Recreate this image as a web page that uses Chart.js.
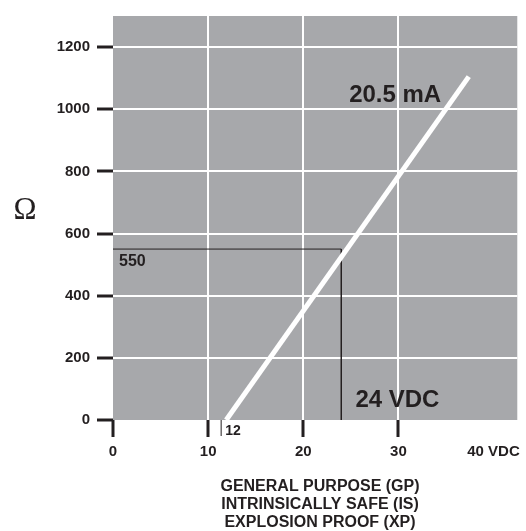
<!DOCTYPE html>
<html>
<head>
<meta charset="utf-8">
<script src="https://cdn.jsdelivr.net/npm/chart.js@4/dist/chart.umd.min.js"></script>
<style>
  html, body { margin: 0; padding: 0; background: #fff; }
  #wrap { width: 526px; height: 531px; position: relative; }
</style>
</head>
<body>
<div id="wrap"><canvas id="myChart"></canvas></div>
<script>
// values
const loadLineX = [11.9, 37.4]; // volts
const loadLineY = [0, 1105]; // ohms
const refX = [0, 24, 24];
const refY = [550, 550, 0];
const xTicks = [0, 10, 20, 30, 40];
const yTicks = [0, 200, 400, 600, 800, 1000, 1200];
const bottomLines = ['GENERAL PURPOSE (GP)', 'INTRINSICALLY SAFE (IS)', 'EXPLOSION PROOF (XP)'];

const ink = '#231f20';
const fontFam = '"Liberation Sans", Arial, Helvetica, sans-serif';

function toPoints(xs, ys) {
  return xs.map((x, i) => ({ x: x, y: ys[i] }));
}

const extras = {
  id: 'extras',
  beforeDraw(chart) {
    const { ctx, chartArea } = chart;
    ctx.save();
    ctx.fillStyle = '#a7a8ab';
    ctx.fillRect(chartArea.left, chartArea.top, chartArea.right - chartArea.left, chartArea.bottom - chartArea.top);
    ctx.restore();
  },
  afterDraw(chart) {
    const { ctx, chartArea } = chart;
    const xs = chart.scales.x;
    const ys = chart.scales.y;
    ctx.save();
    ctx.fillStyle = ink;
    ctx.strokeStyle = ink;

    // the thin 12 V mark under the axis
    const x12 = xs.getPixelForValue(12) - 6;
    ctx.lineWidth = 1;
    ctx.beginPath();
    ctx.moveTo(x12, chartArea.bottom);
    ctx.lineTo(x12, chartArea.bottom + 16);
    ctx.stroke();
    ctx.font = 'bold 14px ' + fontFam;
    ctx.textAlign = 'left';
    ctx.textBaseline = 'middle';
    ctx.fillText('12', x12 + 4, chartArea.bottom + 11);

    // 550 label under the reference line
    ctx.font = 'bold 16px ' + fontFam;
    ctx.textBaseline = 'top';
    ctx.fillText('550', xs.getPixelForValue(0) + 6, ys.getPixelForValue(550) + 5);

    // curve labels
    ctx.font = 'bold 24px ' + fontFam;
    ctx.textAlign = 'right';
    ctx.textBaseline = 'middle';
    ctx.fillText('20.5 mA', xs.getPixelForValue(34.5), ys.getPixelForValue(1044));
    ctx.textAlign = 'center';
    ctx.fillText('24 VDC', xs.getPixelForValue(29.9), ys.getPixelForValue(64));

    // omega axis title
    ctx.font = '31px "Liberation Serif", "DejaVu Serif", serif';
    ctx.textAlign = 'center';
    ctx.fillText('Ω', 25, 211);

    // classification lines under the chart
    ctx.font = 'bold 16px ' + fontFam;
    bottomLines.forEach((line, i) => {
      ctx.fillText(line, 320, 487 + i * 17.8);
    });
    ctx.restore();
  }
};

const config = {
  type: 'scatter',
  data: {
    datasets: [
      {
        data: toPoints(loadLineX, loadLineY),
        showLine: true,
        borderColor: '#ffffff',
        borderWidth: 5,
        pointRadius: 0,
        borderCapStyle: 'butt'
      },
      {
        data: toPoints(refX, refY),
        showLine: true,
        borderColor: '#231f20',
        borderWidth: 1,
        pointRadius: 0
      }
    ]
  },
  options: {
    responsive: true,
    maintainAspectRatio: false,
    animation: false,
    layout: { padding: { top: 13, right: 4, left: 0, bottom: 0 } },
    plugins: { legend: { display: false }, tooltip: { enabled: false } },
    scales: {
      x: {
        type: 'linear',
        min: 0,
        max: 42.5,
        afterBuildTicks: (scale) => { scale.ticks = xTicks.map((v) => ({ value: v })); },
        afterFit: (scale) => { scale.height = 111; },
        border: { display: false },
        grid: {
          color: (c) => (c.tick && c.tick.value > 0 && c.tick.value < 40 ? '#ffffff' : 'rgba(0,0,0,0)'),
          tickColor: (c) => (c.tick && c.tick.value < 40 ? ink : 'rgba(0,0,0,0)'),
          lineWidth: 2,
          tickWidth: 3,
          tickLength: 17
        },
        ticks: {
          color: ink,
          padding: 6,
          maxRotation: 0,
          autoSkip: false,
          font: { family: fontFam, size: 15, weight: 'bold' },
          callback: (v) => (v === 40 ? '40 VDC' : String(v))
        }
      },
      y: {
        type: 'linear',
        min: 0,
        max: 1300,
        afterBuildTicks: (scale) => { scale.ticks = yTicks.map((v) => ({ value: v })); },
        afterFit: (scale) => { scale.width = 113; },
        border: { display: false },
        grid: {
          color: (c) => (c.tick && c.tick.value > 0 ? '#ffffff' : 'rgba(0,0,0,0)'),
          tickColor: ink,
          lineWidth: 2,
          tickWidth: 3,
          tickLength: 16
        },
        ticks: {
          color: ink,
          padding: 7,
          autoSkip: false,
          font: { family: fontFam, size: 15, weight: 'bold' },
          callback: (v) => String(v)
        }
      }
    }
  },
  plugins: [extras]
};

new Chart(document.querySelector('#myChart'), config);
</script>
</body>
</html>
